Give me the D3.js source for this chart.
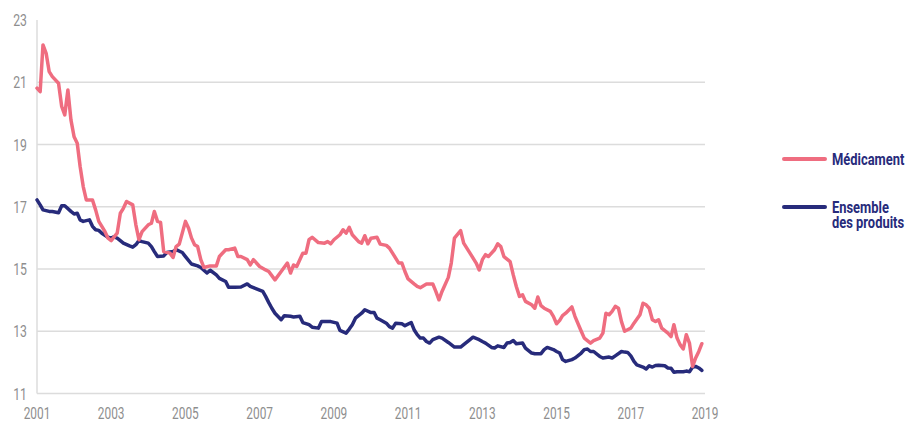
<!DOCTYPE html>
<html>
<head>
<meta charset="utf-8">
<script src="https://cdn.jsdelivr.net/npm/d3@7"></script>
<style>
  body { margin: 0; background: #fff; }
  svg text { font-family: Roboto, "DejaVu Sans", sans-serif; }
</style>
</head>
<body>
<div id="chart"></div>
<script>
// mois depuis janvier 2001
const medMonths = [0,1,2,3,4,5,7,8,9,10,11,12,13,14,15,16,18,19,20,21,22,23,24,26,27,28,29,31,32,33,34,36,37,38,39,40,41,43,44,45,46,48,49,50,51,52,53,54,56,58,59,61,62,64,65,66,68,69,70,72,74,75,77,79,81,82,83,84,86,87,88,89,91,93,94,95,96,98,99,100,101,102,104,105,106,107,108,110,111,113,114,115,117,118,119,120,122,123,124,126,128,129,130,131,133,134,135,137,138,140,142,143,144,145,146,148,149,150,151,153,154,155,156,157,158,160,161,162,163,164,166,167,168,169,170,171,173,174,176,177,179,180,182,183,184,185,186,187,188,189,190,191,192,193,195,196,197,198,199,200,201,202,204,205,206,207,208,209,210,211,212,213,214,215];
const medValues = [20.81,20.70,22.2,21.93,21.34,21.18,20.97,20.22,19.95,20.75,19.79,19.25,19.04,18.3,17.65,17.22,17.22,16.90,16.53,16.37,16.20,15.99,15.91,16.15,16.79,16.95,17.17,17.06,16.42,15.94,16.20,16.42,16.47,16.85,16.53,16.50,15.56,15.51,15.37,15.72,15.80,16.53,16.31,16.0,15.78,15.72,15.30,15.05,15.10,15.10,15.40,15.62,15.62,15.67,15.40,15.40,15.30,15.13,15.30,15.08,14.97,14.92,14.65,14.92,15.19,14.87,15.13,15.08,15.51,15.51,15.94,16.02,15.85,15.83,15.88,15.81,15.94,16.10,16.26,16.15,16.34,16.10,15.88,15.83,16.07,15.81,15.99,16.02,15.80,15.76,15.67,15.51,15.19,15.19,14.92,14.68,14.52,14.44,14.40,14.52,14.52,14.28,14.01,14.28,14.73,15.19,15.99,16.23,15.83,15.51,15.19,14.97,15.30,15.46,15.40,15.62,15.81,15.72,15.40,15.24,14.81,14.44,14.12,14.17,13.96,13.85,13.74,14.10,13.82,13.74,13.64,13.48,13.24,13.35,13.50,13.58,13.78,13.48,13.0,12.78,12.62,12.70,12.78,12.94,13.58,13.53,13.64,13.80,13.74,13.31,13.0,13.05,13.10,13.26,13.53,13.90,13.85,13.74,13.37,13.31,13.37,13.10,12.94,12.83,13.21,12.78,12.57,12.43,12.89,12.62,11.87,12.14,12.35,12.60];

const ensMonths = [0,1,2,4,5,7,8,9,11,12,13,14,15,17,18,19,20,21,23,24,25,26,27,28,30,31,32,33,34,36,37,38,39,41,42,44,45,47,48,50,52,53,55,56,58,59,61,62,64,66,68,69,71,73,74,75,76,77,79,80,82,83,85,86,88,89,91,92,94,95,97,98,100,101,102,103,105,106,108,109,110,111,113,114,115,116,118,119,121,122,123,124,125,126,127,128,130,131,133,135,137,138,140,141,143,144,145,147,148,149,151,152,153,154,155,157,158,160,161,163,164,165,167,168,169,170,171,173,174,176,177,178,179,180,182,183,185,186,187,189,190,191,192,193,194,196,197,198,199,200,201,203,204,205,206,207,209,210,211,212,213,214,215];
const ensValues = [17.22,17.06,16.90,16.85,16.85,16.81,17.03,17.03,16.85,16.77,16.79,16.58,16.53,16.58,16.37,16.26,16.24,16.15,16.02,15.99,16.04,15.99,15.91,15.83,15.74,15.70,15.78,15.91,15.88,15.83,15.72,15.56,15.40,15.42,15.53,15.56,15.62,15.53,15.40,15.16,15.10,15.05,14.87,14.96,14.81,14.70,14.60,14.41,14.41,14.42,14.52,14.44,14.36,14.28,14.12,13.92,13.74,13.58,13.37,13.50,13.48,13.46,13.48,13.28,13.21,13.13,13.10,13.31,13.31,13.31,13.26,13.03,12.94,13.07,13.21,13.42,13.58,13.69,13.60,13.60,13.42,13.37,13.26,13.15,13.10,13.26,13.24,13.18,13.28,13.05,12.89,12.78,12.78,12.67,12.62,12.73,12.81,12.78,12.64,12.49,12.49,12.57,12.73,12.81,12.73,12.67,12.62,12.48,12.46,12.53,12.48,12.62,12.64,12.70,12.60,12.62,12.46,12.30,12.28,12.28,12.41,12.48,12.41,12.35,12.30,12.09,12.03,12.09,12.14,12.30,12.41,12.43,12.35,12.35,12.19,12.14,12.17,12.14,12.21,12.35,12.33,12.32,12.21,12.03,11.92,11.85,11.79,11.89,11.85,11.90,11.91,11.89,11.82,11.81,11.68,11.70,11.70,11.72,11.70,11.85,11.87,11.82,11.74];

const yTicks = [11, 13, 15, 17, 19, 21, 23];
const xTickYears = [2001, 2003, 2005, 2007, 2009, 2011, 2013, 2015, 2017, 2019];
const seriesNames = ["Médicament", "Ensemble des produits"];

const width = 912, height = 423;
const pink = "#ef6d80", navy = "#272b7b";
const tickGray = "#8e8e8e";
const start = new Date(2001, 0, 1);
const squeeze = 0.72; // police condensée simulée

const svg = d3.select("#chart").append("svg")
    .attr("width", width)
    .attr("height", height);

const x = d3.scaleTime()
    .domain([start, new Date(2019, 0, 1)])
    .range([37, 705]);

const y = d3.scaleLinear()
    .domain([11, 23])
    .range([393.5, 20]);

// grille horizontale
svg.append("g")
   .selectAll("line")
   .data(yTicks.filter(t => t < 23))
   .enter()
   .append("line")
   .attr("x1", x.range()[0])
   .attr("x2", x.range()[1])
   .attr("y1", d => y(d))
   .attr("y2", d => y(d))
   .style("stroke", "#dcdcdc")
   .style("stroke-width", 1.5);

// axe vertical
svg.append("line")
   .attr("x1", x.range()[0]).attr("x2", x.range()[0])
   .attr("y1", y(23)).attr("y2", y(11))
   .style("stroke", "#dcdcdc")
   .style("stroke-width", 1.5);

// étiquettes Y
svg.append("g")
   .selectAll("text")
   .data(yTicks)
   .enter()
   .append("text")
   .attr("transform", d => `translate(27,${y(d)}) scale(${squeeze},1)`)
   .attr("dy", "0.36em")
   .attr("text-anchor", "end")
   .style("fill", tickGray)
   .style("font-size", "17px")
   .text(d => d);

// étiquettes X
svg.append("g")
   .selectAll("text")
   .data(xTickYears)
   .enter()
   .append("text")
   .attr("transform", d => `translate(${x(new Date(d, 0, 1))},418.5) scale(${squeeze},1)`)
   .attr("text-anchor", "middle")
   .style("fill", tickGray)
   .style("font-size", "16.5px")
   .text(d => d);

const line = d3.line()
    .x(d => x(d3.timeMonth.offset(start, d[0])))
    .y(d => y(d[1]));

const medData = d3.zip(medMonths, medValues);
const ensData = d3.zip(ensMonths, ensValues);

svg.append("path")
   .datum(ensData)
   .attr("d", line)
   .style("fill", "none")
   .style("stroke", navy)
   .style("stroke-width", 3.5)
   .style("stroke-linejoin", "round")
   .style("stroke-linecap", "round");

svg.append("path")
   .datum(medData)
   .attr("d", line)
   .style("fill", "none")
   .style("stroke", pink)
   .style("stroke-width", 3.5)
   .style("stroke-linejoin", "round")
   .style("stroke-linecap", "round");

// légende
const legend = svg.append("g");
const legendItems = [
    { name: seriesNames[0], color: pink, y: 159, lines: ["Médicament"] },
    { name: seriesNames[1], color: navy, y: 207, lines: ["Ensemble", "des produits"] }
];

legend.selectAll("line")
      .data(legendItems)
      .enter()
      .append("line")
      .attr("x1", 784).attr("x2", 825)
      .attr("y1", d => d.y).attr("y2", d => d.y)
      .style("stroke", d => d.color)
      .style("stroke-width", 4)
      .style("stroke-linecap", "round");

legendItems.forEach(item => {
    item.lines.forEach((l, i) => {
        legend.append("text")
              .attr("transform", `translate(832,${item.y + 5.5 + i * 15.5}) scale(0.76,1)`)
              .style("fill", navy)
              .style("font-size", "17px")
              .style("font-weight", "bold")
              .text(l);
    });
});
</script>
</body>
</html>
